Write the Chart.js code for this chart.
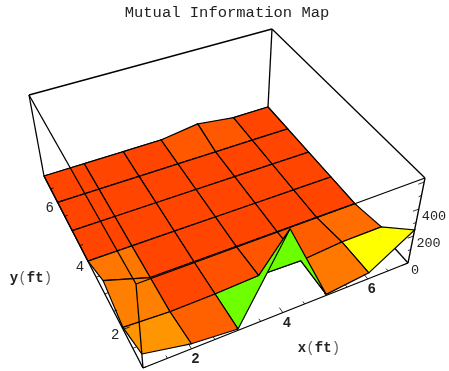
<!DOCTYPE html>
<html>
<head>
<meta charset="utf-8">
<style>
body{margin:0;background:#fff}
canvas{display:block}
</style>
<script src="https://cdn.jsdelivr.net/npm/chart.js@4"></script>
</head>
<body>
<canvas id="grafica" width="449" height="371"></canvas>
<script>
// valores
var xValues = [1,2,3,4,5,6,7];
var yValues = [1,2,3,4,5,6,7];
var zY1 = [105,38,10,620,8,45,245];
var zY2 = [15,0,5,20,12,38,40];
var zY3 = [100,0,0,0,0,0,0];
var zY4 = [0,0,0,0,0,0,0];
var zY5 = [0,0,0,0,0,0,0];
var zY6 = [0,0,0,0,0,0,0];
var zY7 = [0,0,0,0,38,0,0];
var zRows = [zY1,zY2,zY3,zY4,zY5,zY6,zY7];
var xTicks = [2,4,6];
var yTicks = [2,4,6];
var zTicks = [0,200,400];

// camara: esquinas de la caja en pantalla (frente, derecha, fondo, izquierda)
var baseBox = [[143,368],[408,263],[268,107],[44,176]];
var topBox = [[136,284],[425,178],[272,29],[29,95]];
var zTop = 630;
var TITLE_H = 22.6;
var LEFT_PAD = 5;

function homografia(q){
    var dx1=q[1][0]-q[2][0], dx2=q[3][0]-q[2][0], sx=q[0][0]-q[1][0]+q[2][0]-q[3][0];
    var dy1=q[1][1]-q[2][1], dy2=q[3][1]-q[2][1], sy=q[0][1]-q[1][1]+q[2][1]-q[3][1];
    var den=dx1*dy2-dx2*dy1;
    var g=(sx*dy2-dx2*sy)/den, h=(dx1*sy-sx*dy1)/den;
    var a=q[1][0]-q[0][0]+g*q[1][0], b=q[3][0]-q[0][0]+h*q[3][0];
    var d=q[1][1]-q[0][1]+g*q[1][1], e=q[3][1]-q[0][1]+h*q[3][1];
    return function(u,v){
        var w=g*u+h*v+1;
        return [(a*u+b*v+q[0][0])/w,(d*u+e*v+q[0][1])/w];
    };
}
var hBase = homografia(baseBox), hTop = homografia(topBox);

function proyectar(x,y,z){
    var u=(x-1)/6, v=(y-1)/6, s=z/zTop;
    var p=hBase(u,v), t=hTop(u,v);
    return {x:p[0]+(t[0]-p[0])*s, y:p[1]+(t[1]-p[1])*s};
}

function colorQuad(media){
    var hue=(0.045+0.00132*media)*360;
    return 'hsl('+hue+',100%,50%)';
}

function linea(puntos){
    return {data:puntos, showLine:true, pointRadius:0, borderColor:'#000', borderWidth:1.3, fill:false, tension:0, clip:false};
}
function arista(a,b){
    return linea([proyectar(a[0],a[1],a[2]),proyectar(b[0],b[1],b[2])]);
}

var datasets=[];
// aristas de atras, quedan debajo de la superficie
datasets.push(arista([7,7,0],[7,7,zTop]));
datasets.push(arista([7,1,0],[7,7,0]));
datasets.push(arista([1,7,0],[7,7,0]));
datasets.push(arista([1,7,zTop],[7,7,zTop]));
datasets.push(arista([7,1,zTop],[7,7,zTop]));

// superficie de atras hacia adelante
for(var j=yValues.length-2;j>=0;j--){
    for(var i=xValues.length-2;i>=0;i--){
        var z00=zRows[j][i], z10=zRows[j][i+1], z11=zRows[j+1][i+1], z01=zRows[j+1][i];
        var pts=[
            proyectar(xValues[i],yValues[j],z00),
            proyectar(xValues[i+1],yValues[j],z10),
            proyectar(xValues[i+1],yValues[j+1],z11),
            proyectar(xValues[i],yValues[j+1],z01)
        ];
        pts.push(pts[0]);
        datasets.push({
            data:pts, showLine:true, pointRadius:0, tension:0, clip:false,
            fill:'shape',
            backgroundColor:colorQuad((z00+z10+z11+z01)/4),
            borderColor:'#000', borderWidth:1.2
        });
    }
}

// aristas delanteras
datasets.push(arista([1,7,0],[1,7,zTop]));
datasets.push(arista([7,1,0],[7,1,zTop]));
datasets.push(arista([1,1,0],[1,1,zTop]));
datasets.push(arista([1,1,zTop],[7,1,zTop]));
datasets.push(arista([1,1,zTop],[1,7,zTop]));
datasets.push(arista([1,1,0],[7,1,0]));
datasets.push(arista([1,1,0],[1,7,0]));

// marcas de los ejes
function marcas(){
    for(var t=1;t<=7;t+=0.5){
        var largo=(t%2==0)?0.14:0.07;
        var mx=arista([t,1,0],[t,1+largo,0]); mx.borderWidth=0.8; datasets.push(mx);
        var my=arista([1,t,0],[1+largo,t,0]); my.borderWidth=0.8; datasets.push(my);
    }
    for(var z=0;z<=zTop;z+=100){
        var lz=(z%200==0)?0.14:0.07;
        var mz=arista([7,1,z],[7-lz,1,z]); mz.borderWidth=0.8; datasets.push(mz);
    }
}
marcas();

// el primer dataset se dibuja al final, por eso order invertido
var total=datasets.length;
datasets.forEach(function(d,k){ d.order=total-k; });

// letras en negrita, parentesis finos como en la imagen
function etiquetaEje(ctx,letra,cx,cy){
    var partes=[[letra,true],['(',false],['f',true],['t',true],[')',false]];
    partes.forEach(function(p,k){
        ctx.font=(p[1]?'bold ':'')+'14px "Liberation Mono"';
        ctx.fillStyle=p[1]?'#222':'#666';
        ctx.fillText(p[0],cx+(k-2)*8.5,cy);
    });
}

var textos={
    id:'textos',
    afterDatasetsDraw:function(chart){
        var ctx=chart.ctx;
        ctx.save();
        ctx.fillStyle='#222';
        ctx.textBaseline='middle';
        ctx.textAlign='center';
        ctx.font='bold 14px "Liberation Mono"';
        xTicks.forEach(function(t){
            var p=proyectar(t,1,0);
            ctx.fillText(String(t),p.x+4,p.y+11);
        });
        ctx.font='14px "Liberation Mono"';
        yTicks.forEach(function(t){
            var p=proyectar(1,t,0);
            ctx.fillText(String(t),p.x-8,p.y+6);
        });
        ctx.textAlign='left';
        ctx.font='13.5px "Liberation Mono"';
        zTicks.forEach(function(t){
            var p=proyectar(7,1,t);
            ctx.fillText(String(t),p.x+3,p.y+7);
        });
        ctx.textAlign='center';
        etiquetaEje(ctx,'x',319,348);
        etiquetaEje(ctx,'y',31,278);
        ctx.restore();
    }
};

var myChart=new Chart(document.getElementById('grafica').getContext('2d'),{
    type:'scatter',
    data:{datasets:datasets},
    options:{
        responsive:false,
        animation:false,
        layout:{padding:{left:LEFT_PAD}},
        scales:{
            x:{type:'linear',display:false,min:LEFT_PAD,max:449},
            y:{type:'linear',display:false,reverse:true,min:TITLE_H,max:371}
        },
        plugins:{
            legend:{display:false},
            tooltip:{enabled:false},
            filler:{drawTime:'beforeDatasetDraw'},
            title:{
                display:true,
                text:'Mutual Information Map',
                fullSize:false,
                color:'#222',
                font:{family:'"Liberation Mono"',size:15.5,weight:'normal'},
                padding:{top:4,bottom:0}
            }
        }
    },
    plugins:[textos]
});
</script>
</body>
</html>
